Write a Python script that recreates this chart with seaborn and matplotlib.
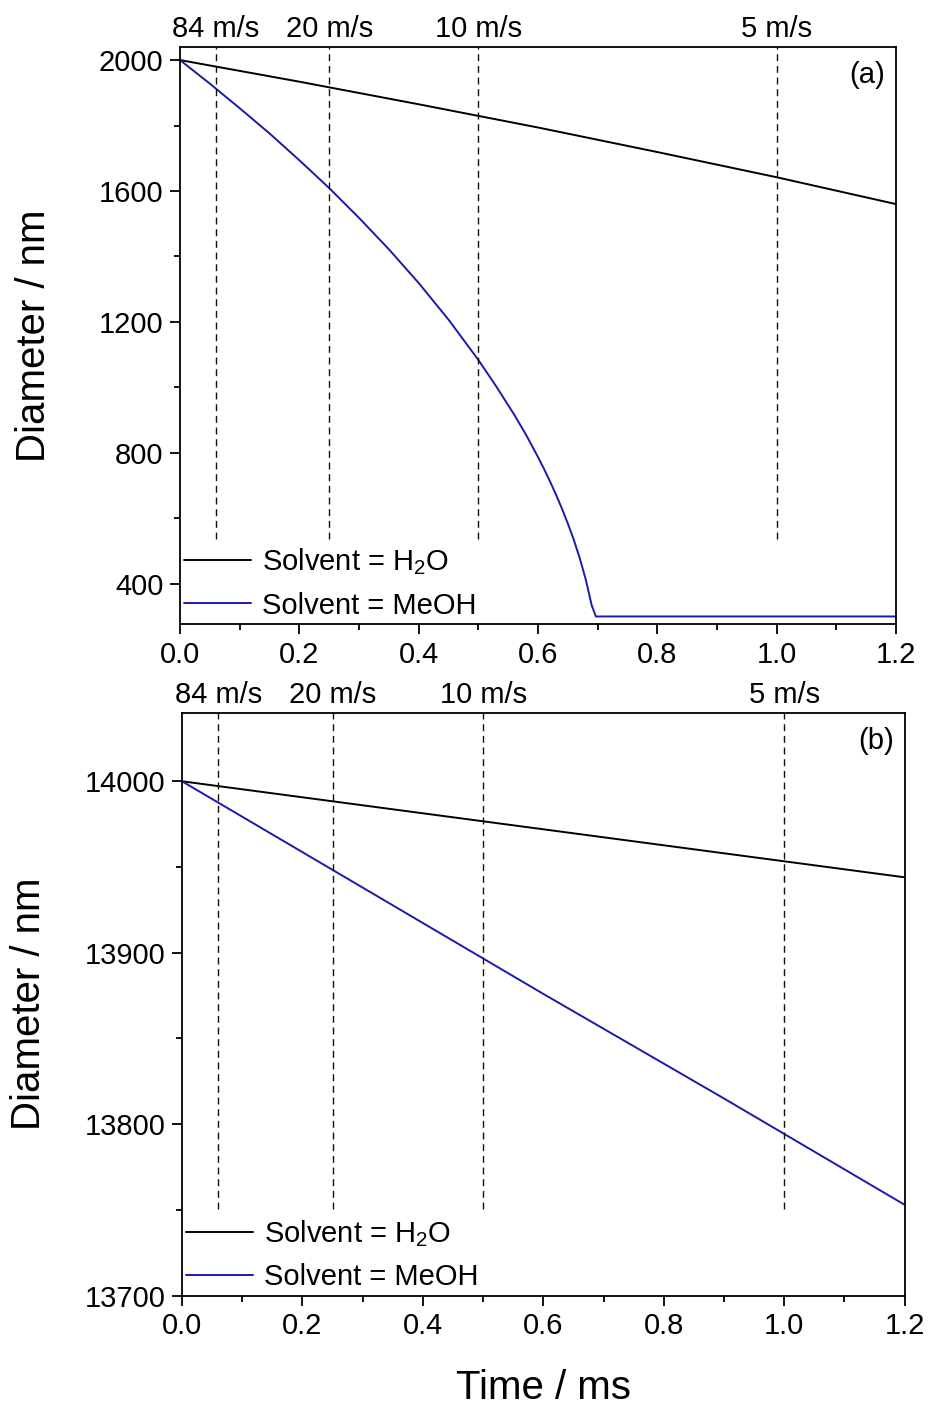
import numpy as np
import pandas as pd
import matplotlib
matplotlib.use("Agg")
import matplotlib.pyplot as plt
import seaborn as sns
from matplotlib.ticker import MultipleLocator, FormatStrFormatter

# ---------------- data ----------------
# panel (a): 2000 nm initial droplet
t_a_h2o = [0.0, 0.2, 0.4, 0.6, 0.8, 1.0, 1.2]
d_a_h2o = [2000, 1934, 1865, 1794, 1719, 1642, 1560]

t_a_meoh = [0.0, 0.05, 0.10, 0.15, 0.20, 0.25, 0.30, 0.35, 0.40, 0.45, 0.50,
            0.53, 0.56, 0.58, 0.60, 0.61, 0.62, 0.63, 0.64, 0.65, 0.66, 0.67,
            0.68, 0.69, 0.697, 0.75, 0.9, 1.05, 1.2]
d_a_meoh = [2000, 1928, 1853, 1776, 1694, 1609, 1518, 1422, 1319, 1207, 1084,
            1003, 917, 855, 787, 751, 713, 673, 630, 584, 534, 478,
            413, 334, 300, 300, 300, 300, 300]

# panel (b): 14000 nm initial droplet
t_b_h2o = [0.0, 0.3, 0.6, 0.9, 1.2]
d_b_h2o = [14000, 13986, 13972, 13958, 13944]

t_b_meoh = [0.0, 0.3, 0.6, 0.9, 1.2]
d_b_meoh = [14000, 13938, 13876, 13815, 13753]

# velocity markers
vel_times = [0.06, 0.25, 0.5, 1.0]
vel_labels = ["84 m/s", "20 m/s", "10 m/s", "5 m/s"]

solvent_labels = ["Solvent = H$_2$O", "Solvent = MeOH"]
colors = ["#000000", "#1a1aaa"]

# ---------------- style ----------------
sns.set_theme(style="ticks")
plt.rcParams["font.family"] = ["Liberation Sans", "DejaVu Sans"]
plt.rcParams["mathtext.fontset"] = "custom"
plt.rcParams["mathtext.rm"] = "Liberation Sans"
plt.rcParams["mathtext.it"] = "Liberation Sans"
plt.rcParams["axes.linewidth"] = 1.3
for key in ["text.color", "axes.labelcolor", "xtick.color", "ytick.color",
            "axes.edgecolor"]:
    plt.rcParams[key] = "black"

fig = plt.figure(figsize=(9.3, 14.04), dpi=100)
ax_a = fig.add_axes([0.19355, 0.55556, 0.7699, 0.41097])
ax_b = fig.add_axes([0.1957, 0.07714, 0.7771, 0.41524])

panels = [
    (ax_a, t_a_h2o, d_a_h2o, t_a_meoh, d_a_meoh, (277, 2040), 400, 200, "(a)", -0.178),
    (ax_b, t_b_h2o, d_b_h2o, t_b_meoh, d_b_meoh, (13700, 14040), 100, 50, "(b)", -0.185),
]

for ax, th, dh, tm, dm, ylim, major, minor, tag, ylab_x in panels:
    df = pd.DataFrame({
        "t": list(th) + list(tm),
        "d": list(dh) + list(dm),
        "solvent": [solvent_labels[0]] * len(th) + [solvent_labels[1]] * len(tm),
    })
    sns.lineplot(data=df, x="t", y="d", hue="solvent", palette=colors,
                 hue_order=solvent_labels, linewidth=1.4, ax=ax,
                 sort=False, estimator=None)
    for vt in vel_times:
        ax.axvline(vt, ymin=0.148, ymax=1.0, color="#111111", lw=1.0,
                   linestyle=(0, (5, 3.4)))
    ax.set_xlim(0, 1.2)
    ax.set_ylim(*ylim)
    ax.xaxis.set_major_locator(MultipleLocator(0.2))
    ax.xaxis.set_minor_locator(MultipleLocator(0.1))
    ax.yaxis.set_major_locator(MultipleLocator(major))
    ax.yaxis.set_minor_locator(MultipleLocator(minor))
    ax.xaxis.set_major_formatter(FormatStrFormatter("%.1f"))
    ax.tick_params(which="major", direction="out", length=7, width=1.3,
                   labelsize=21, pad=5, top=False, right=False)
    ax.tick_params(which="minor", direction="out", length=4.5, width=1.3,
                   top=False, right=False)
    for s in ax.spines.values():
        s.set_visible(True)
        s.set_linewidth(1.3)
        s.set_color("black")

    sec = ax.secondary_xaxis("top")
    sec.set_xticks(vel_times)
    sec.set_xticklabels(vel_labels)
    sec.tick_params(length=0, pad=3, labelsize=21)
    sec.spines["top"].set_visible(False)

    ax.text(0.985, 0.975, tag, transform=ax.transAxes, ha="right", va="top",
            fontsize=21)

    ax.set_ylabel("Diameter / nm", fontsize=29)
    ax.yaxis.set_label_coords(ylab_x, 0.5)
    ax.set_xlabel("")
    leg = ax.legend(loc="lower left", frameon=False, fontsize=21,
                    handlelength=2.3, handletextpad=0.35, labelspacing=0.5,
                    borderpad=0.15, borderaxespad=0.0, bbox_to_anchor=(0.0, 0.0))
    for h in leg.get_lines():
        h.set_linewidth(1.4)

ax_b.set_xlabel("Time / ms", fontsize=29)
ax_b.xaxis.set_label_coords(0.5, -0.125)

fig.savefig("out.png", dpi=100)
